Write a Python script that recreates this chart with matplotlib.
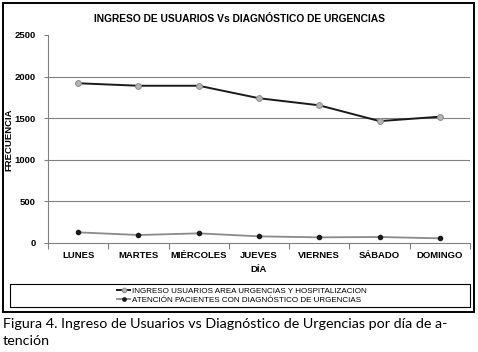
import matplotlib
matplotlib.use("Agg")
import matplotlib.pyplot as plt
from matplotlib.patches import Rectangle

dias = ["LUNES", "MARTES", "MIÉRCOLES", "JUEVES", "VIERNES", "SÁBADO", "DOMINGO"]
ingreso = [1920, 1890, 1890, 1740, 1655, 1465, 1518]
atencion = [128, 96, 116, 80, 68, 72, 56]
yticks = [0, 500, 1000, 1500, 2000, 2500]
title = "INGRESO DE USUARIOS Vs DIAGNÓSTICO DE URGENCIAS"
serie1 = "INGRESO USUARIOS AREA URGENCIAS Y HOSPITALIZACION"
serie2 = "ATENCIÓN PACIENTES CON DIAGNÓSTICO DE URGENCIAS"
caption1 = "Figura 4. Ingreso de Usuarios vs Diagnóstico de Urgencias por día de a-"
caption2 = "tención"

W, H = 478, 352
fig = plt.figure(figsize=(W / 100, H / 100), dpi=100)
fig.patch.set_facecolor("white")

def fx(px):
    return px / W

def fy(py):
    return 1 - py / H

# outer frame
fig.add_artist(Rectangle((fx(3), fy(312)), fx(471), 309 / H, transform=fig.transFigure,
                         fill=False, edgecolor="black", linewidth=1.4))

ax = fig.add_axes([fx(48), fy(243), fx(422), 208 / H])
x = list(range(len(dias)))
ax.plot(x, ingreso, color="#1a1a1a", linewidth=1.4, marker="o", markersize=4.2,
        markerfacecolor="#b4b4b4", markeredgecolor="#8a8a8a", markeredgewidth=0.7,
        label=serie1, zorder=3)
ax.plot(x, atencion, color="#8a8a8a", linewidth=1.3, marker="o", markersize=3.0,
        markerfacecolor="#1a1a1a", markeredgecolor="#1a1a1a",
        label=serie2, zorder=3)

ax.set_xlim(-0.5, len(dias) - 0.5)
ax.set_ylim(0, 2500)
ax.set_yticks(yticks)
ax.set_yticklabels([str(v) for v in yticks], fontsize=6.8, fontweight="bold",
                   family="Liberation Sans")
for v in yticks[1:-1]:
    ax.axhline(v, color="#808080", linewidth=0.8, zorder=1)

ax.set_xticks(x)
ax.set_xticklabels(dias, fontsize=6.8, fontweight="bold", family="Liberation Sans")
ax.set_xticks([i - 0.5 for i in range(len(dias) + 1)], minor=True)
ax.tick_params(axis="x", which="major", length=0, pad=6)
ax.tick_params(axis="x", which="minor", length=4, width=0.8, color="#808080")
ax.tick_params(axis="y", length=3, width=0.8, color="#808080", pad=6)

for s in ["top", "right"]:
    ax.spines[s].set_visible(False)
for s in ["left", "bottom"]:
    ax.spines[s].set_color("#808080")
    ax.spines[s].set_linewidth(0.8)

fig.text(fx(240), fy(19), title, ha="center", va="center", fontsize=7.4,
         fontweight="bold", family="Liberation Sans")
fig.text(fx(9), fy(140), "FRECUENCIA", rotation=90, ha="center", va="center",
         fontsize=6.8, fontweight="bold", family="Liberation Sans")
fig.text(fx(259), fy(270), "DÍA", ha="center", va="center", fontsize=6.8,
         fontweight="bold", family="Liberation Sans")

# legend box
fig.add_artist(Rectangle((fx(10), fy(307)), fx(460), 23 / H, transform=fig.transFigure,
                         fill=False, edgecolor="black", linewidth=0.8))
h, l = ax.get_legend_handles_labels()
leg = fig.legend(h, l, loc="center", bbox_to_anchor=(fx(242), fy(295.5)), frameon=False,
                 prop={"family": "Liberation Sans", "size": 5.8}, handlelength=1.6,
                 handletextpad=0.2, labelspacing=0.15, borderpad=0, markerscale=0.8)

fig.text(fx(3), fy(328), caption1, ha="left", va="baseline", fontsize=10.3, family="Lato")
fig.text(fx(3), fy(345), caption2, ha="left", va="baseline", fontsize=10.3, family="Lato")

fig.savefig("out.png", dpi=100, facecolor="white")
